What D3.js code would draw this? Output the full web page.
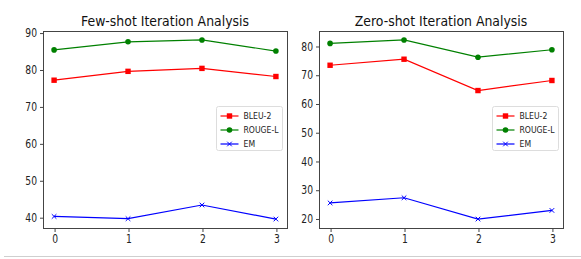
<!DOCTYPE html>
<html>
<head>
<meta charset="utf-8">
<script src="https://cdn.jsdelivr.net/npm/d3@7"></script>
<style>
  body { margin: 0; background: #fff; }
  svg text { font-family: "DejaVu Sans", sans-serif; }
</style>
</head>
<body>
<svg width="581" height="259"></svg>
<script>
// iterations on the x axis
var iterations = [0, 1, 2, 3];

// few-shot scores
var fewBleu = [77.1, 79.5, 80.3, 78.1];
var fewRouge = [85.3, 87.5, 88.0, 85.0];
var fewEm = [40.2, 39.6, 43.3, 39.5];

// zero-shot scores
var zeroBleu = [73.3, 75.4, 64.5, 68.0];
var zeroRouge = [80.9, 82.1, 76.1, 78.7];
var zeroEm = [25.4, 27.2, 19.8, 22.8];

var fewTicks = [40, 50, 60, 70, 80, 90];
var zeroTicks = [20, 30, 40, 50, 60, 70, 80];

var svg = d3.select("svg");

// light rule under the figure
svg.append("line")
    .attr("x1", 4).attr("x2", 581)
    .attr("y1", 256.5).attr("y2", 256.5)
    .attr("stroke", "#cfcfcf").attr("stroke-width", 1);

// the source image is a bit narrower than tall, so text gets squeezed sideways
function squeeze(sel, k) {
    sel.each(function () {
        var w = this.getComputedTextLength();
        d3.select(this).attr("textLength", w * k).attr("lengthAdjust", "spacingAndGlyphs");
    });
}

//-------------
// ONE PANEL
//-------------
function drawPanel(opts) {
    var left = opts.left, right = opts.right, top = 31, bottom = 228;
    var g = svg.append("g");

    var x = d3.scaleLinear().domain([-0.15, 3.15]).range([left, right]);

    var all = opts.series.flatMap(s => s.values);
    var lo = d3.min(all), hi = d3.max(all), pad = (hi - lo) * 0.05;
    var y = d3.scaleLinear().domain([lo - pad, hi + pad]).range([bottom, top]);

    // frame
    g.append("rect")
        .attr("x", left + 0.5).attr("y", top + 0.5)
        .attr("width", right - left).attr("height", bottom - top)
        .attr("fill", "none").attr("stroke", "#444").attr("stroke-width", 1);

    var xAxis = g.append("g")
        .attr("transform", `translate(0.5,${bottom + 0.5})`)
        .call(d3.axisBottom(x).tickValues(iterations).tickFormat(d3.format("d")).tickSize(3.5).tickPadding(3));
    xAxis.select(".domain").remove();

    var yAxis = g.append("g")
        .attr("transform", `translate(${left + 0.5},0.5)`)
        .call(d3.axisLeft(y).tickValues(opts.ticks).tickFormat(d3.format("d")).tickSize(3.5).tickPadding(3));
    yAxis.select(".domain").remove();

    g.selectAll(".tick text").attr("font-size", 11.5).attr("fill", "#222")
        .style("font-family", "'DejaVu Sans', sans-serif");
    g.selectAll(".tick line").attr("stroke", "#444");
    squeeze(g.selectAll(".tick text"), 0.8);

    // title
    var title = g.append("text")
        .attr("x", (left + right) / 2).attr("y", 26)
        .attr("text-anchor", "middle")
        .attr("font-size", 14.5).attr("fill", "#111")
        .text(opts.title);
    squeeze(title, 0.86);

    var line = d3.line().x((d, i) => x(iterations[i])).y(d => y(d));

    opts.series.forEach(s => {
        g.append("path").datum(s.values)
            .attr("d", line)
            .attr("fill", "none")
            .attr("stroke", s.color).attr("stroke-width", 1.2);
        s.values.forEach((v, i) => drawMarker(g, s.marker, x(iterations[i]), y(v), s.color));
    });

    // legend
    var lx = opts.legendX, ly = 106.5;
    g.append("rect")
        .attr("x", lx).attr("y", ly).attr("width", 66).attr("height", 44)
        .attr("rx", 2)
        .attr("fill", "#fff").attr("fill-opacity", 0.8)
        .attr("stroke", "#ddd");
    opts.series.forEach((s, i) => {
        var yy = ly + 9.5 + i * 14;
        g.append("line")
            .attr("x1", lx + 4).attr("x2", lx + 22)
            .attr("y1", yy).attr("y2", yy)
            .attr("stroke", s.color).attr("stroke-width", 1.2);
        drawMarker(g, s.marker, lx + 13, yy, s.color);
        var t = g.append("text")
            .attr("x", lx + 27).attr("y", yy + 3.3)
            .attr("font-size", 9.2).attr("fill", "#222")
            .text(s.name);
        squeeze(t, 0.84);
    });
}

function drawMarker(g, type, cx, cy, color) {
    if (type === "square") {
        g.append("rect")
            .attr("x", cx - 2.7).attr("y", cy - 2.7)
            .attr("width", 5.4).attr("height", 5.4)
            .attr("fill", color);
    } else if (type === "circle") {
        g.append("circle")
            .attr("cx", cx).attr("cy", cy).attr("r", 2.8)
            .attr("fill", color);
    } else {
        var r = 2.3;
        g.append("path")
            .attr("d", `M${cx - r},${cy - r}L${cx + r},${cy + r}M${cx - r},${cy + r}L${cx + r},${cy - r}`)
            .attr("stroke", color).attr("stroke-width", 1);
    }
}

drawPanel({
    title: "Few-shot Iteration Analysis",
    left: 43, right: 287,
    ticks: fewTicks,
    legendX: 216.5,
    series: [
        { name: "BLEU-2", values: fewBleu, color: "#ff0000", marker: "square" },
        { name: "ROUGE-L", values: fewRouge, color: "#008000", marker: "circle" },
        { name: "EM", values: fewEm, color: "#0000ff", marker: "x" }
    ]
});

drawPanel({
    title: "Zero-shot Iteration Analysis",
    left: 319, right: 563,
    ticks: zeroTicks,
    legendX: 492.5,
    series: [
        { name: "BLEU-2", values: zeroBleu, color: "#ff0000", marker: "square" },
        { name: "ROUGE-L", values: zeroRouge, color: "#008000", marker: "circle" },
        { name: "EM", values: zeroEm, color: "#0000ff", marker: "x" }
    ]
});
</script>
</body>
</html>
